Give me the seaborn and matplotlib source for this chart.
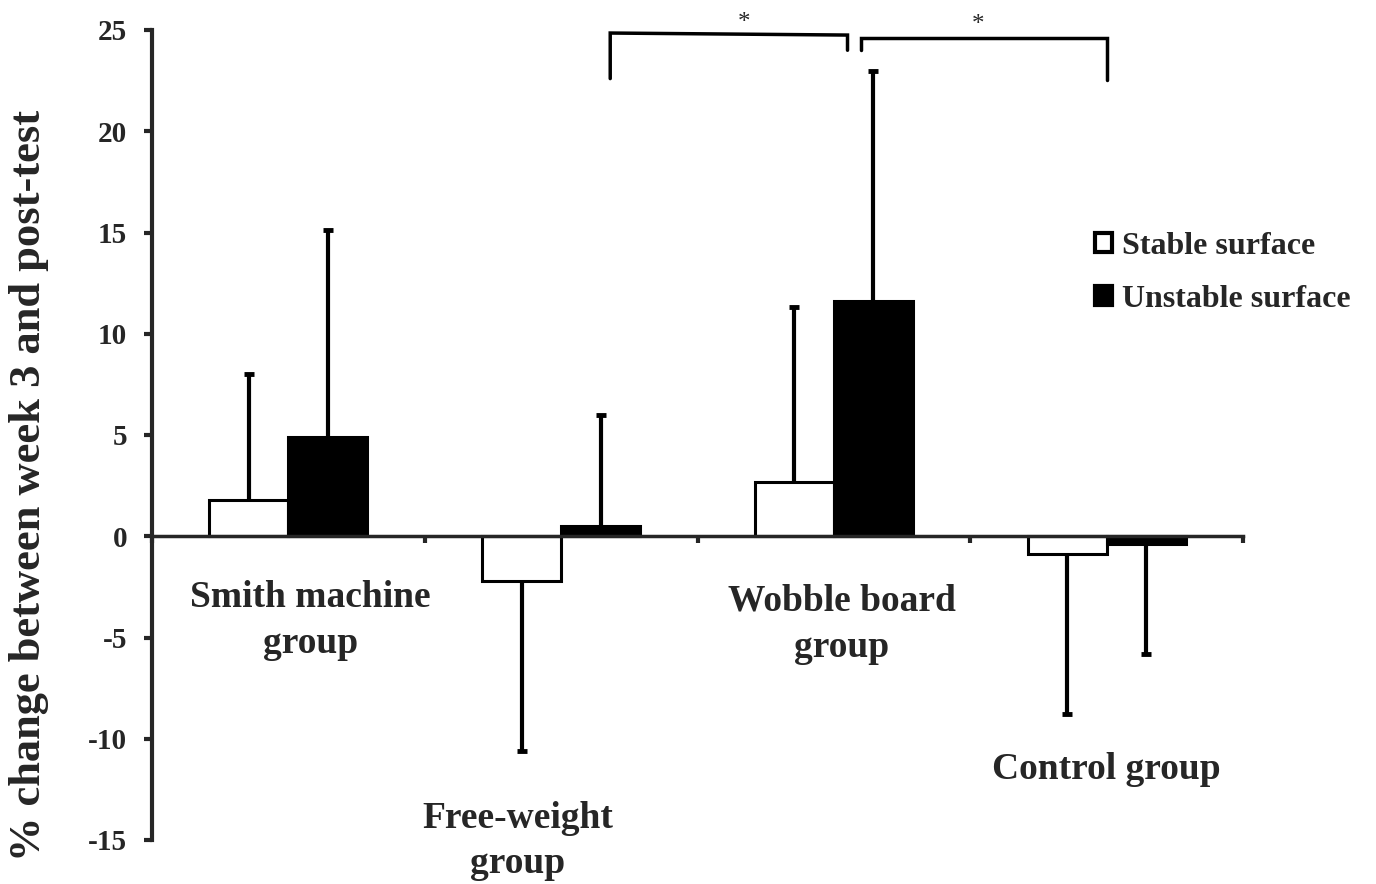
import matplotlib.pyplot as plt
import numpy as np
import pandas as pd
import seaborn as sns
from matplotlib.patches import Patch

# data
groups = ["Smith machine group", "Free-weight group", "Wobble board group", "Control group"]
surfaces = ["Stable surface", "Unstable surface"]
stable = [1.8, -2.2, 2.7, -0.9]
unstable = [4.9, 0.5, 11.6, -0.4]
stable_err = [6.2, 8.4, 8.6, 7.9]  # one-sided SD, away from zero
unstable_err = [10.2, 5.5, 11.4, 5.4]

label_text = ["Smith machine\ngroup", "Free-weight\ngroup", "Wobble board\ngroup", "Control group"]
label_pos = [(0.08, -4.15), (0.84, -15.05), (2.03, -4.35), (3.0, -11.5)]

df = pd.DataFrame({
    "group": groups * 2,
    "surface": [surfaces[0]] * 4 + [surfaces[1]] * 4,
    "change": stable + unstable,
})

sns.set_style("white")
plt.rcParams["font.family"] = ["Liberation Serif", "DejaVu Serif"]
plt.rcParams["font.weight"] = "bold"
plt.rcParams["axes.unicode_minus"] = False

fig = plt.figure(figsize=(13.76, 8.84), dpi=100)
ax = fig.add_axes([152 / 1376, 1 - 840 / 884, (1243 - 152) / 1376, 810 / 884])

sns.barplot(data=df, x="group", y="change", hue="surface", hue_order=surfaces,
            order=groups, palette=["white", "black"], edgecolor="black",
            linewidth=2.2, width=0.58, errorbar=None, legend=False, ax=ax)

# one-sided error bars (line away from zero, small cap at the end)
for cont, errs in zip(ax.containers, [stable_err, unstable_err]):
    for bar, e in zip(cont, errs):
        xc = bar.get_x() + bar.get_width() / 2
        lo = min(bar.get_y(), bar.get_y() + bar.get_height())
        hi = max(bar.get_y(), bar.get_y() + bar.get_height())
        if lo < 0:
            val, end = lo, lo - e
        else:
            val, end = hi, hi + e
        ax.vlines(xc, val, end, color="black", lw=3, zorder=1)
        ax.plot([xc], [end], marker="_", ms=7, mew=3.5, color="black", zorder=1)

ax.set_ylim(-15, 25)
ax.set_xlim(-0.5, 3.5)
ax.set_yticks(np.arange(-15, 26, 5))
ax.set_xticks([-0.5, 0.5, 1.5, 2.5, 3.5])
ax.set_xticklabels([])
ax.set_xlabel("")
ax.set_ylabel("% change between week 3 and post-test", fontsize=32, fontweight="bold")
ax.yaxis.set_label_coords(-0.094, 0.438)
ax.tick_params(axis="y", left=True, direction="out", length=6, width=3, labelsize=21, pad=12)
ax.tick_params(axis="x", bottom=True, direction="out", length=5, width=3)
for lbl in ax.get_yticklabels():
    lbl.set_fontweight("bold")

sns.despine(ax=ax, top=True, right=True)
ax.spines["bottom"].set_position(("data", 0))
ax.spines["left"].set_linewidth(3)
ax.spines["bottom"].set_linewidth(2.5)

for txt, (x, y) in zip(label_text, label_pos):
    ax.text(x, y, txt, ha="center", va="center", fontsize=27, fontweight="bold",
            linespacing=1.4, clip_on=False)

# significance brackets
ax.plot([1.18, 1.18, 2.05, 2.05], [22.6, 24.85, 24.75, 24.0], color="black", lw=2.5,
        clip_on=False, solid_joinstyle="miter")
ax.plot([2.10, 2.10, 3.0, 3.0], [24.0, 24.6, 24.6, 22.55], color="black", lw=2.5,
        clip_on=False, solid_joinstyle="miter")
ax.text(1.67, 25.35, "*", ha="center", va="center", fontsize=18, fontweight="normal")
ax.text(2.53, 25.25, "*", ha="center", va="center", fontsize=18, fontweight="normal")

handles = [Patch(facecolor="white", edgecolor="black", linewidth=3),
           Patch(facecolor="black", edgecolor="black", linewidth=3)]
ax.legend(handles, surfaces, loc="upper left", bbox_to_anchor=(1066 / 1376, 1 - 203 / 884),
          bbox_transform=fig.transFigure, frameon=False,
          handlelength=0.55, handleheight=0.55, handletextpad=0.3, labelspacing=0.75,
          prop={"weight": "bold", "size": 23})

fig.savefig("out.png", dpi=100)
